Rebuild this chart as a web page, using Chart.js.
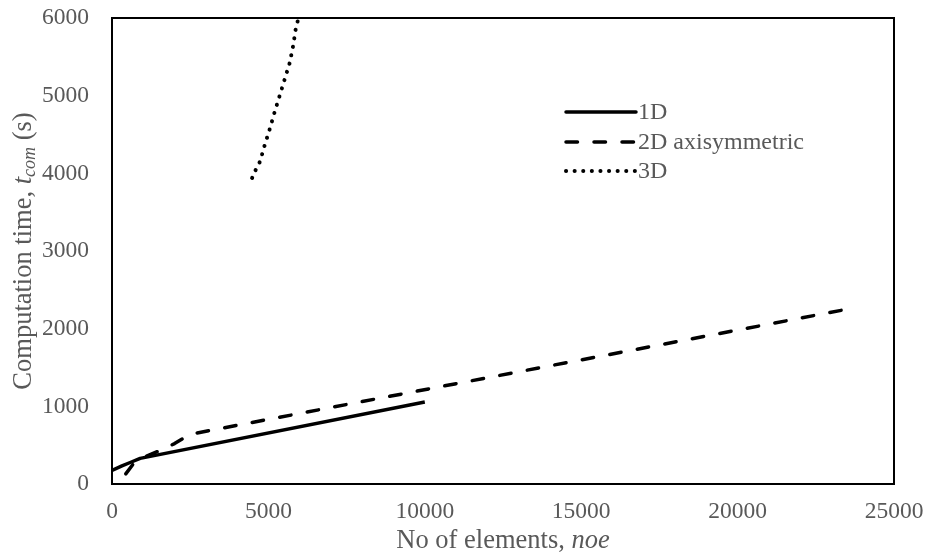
<!DOCTYPE html>
<html>
<head>
<meta charset="utf-8">
<script src="https://cdn.jsdelivr.net/npm/chart.js@4/dist/chart.umd.min.js"></script>
<style>
  body { margin: 0; background: #fff; }
  canvas { display: block; }
</style>
</head>
<body>
<canvas id="canvas" width="928" height="554"></canvas>
<script>
// values
const seriesNames = ['1D', '2D axisymmetric', '3D'];

const oneD_x = [0, 300, 600, 900, 10000];
const oneD_y = [175, 230, 280, 330, 1055];

const twoD_x = [440, 700, 1000, 1500, 2000, 2500, 23500];
const twoD_y = [130, 270, 340, 425, 520, 640, 2250];

const threeD_x = [4480, 4600, 4730, 4880, 5050, 5200, 5360, 5520, 5680, 5790, 5870, 5960];
const threeD_y = [3940, 4050, 4150, 4360, 4580, 4790, 5000, 5210, 5420, 5640, 5850, 6000];

const xTicks = [0, 5000, 10000, 15000, 20000, 25000];
const yTicks = [0, 1000, 2000, 3000, 4000, 5000, 6000];

const font = 'Liberation Serif';
const grey = '#595959';
const tickSize = 23.5;
const titleSize = 26.5;

function pts(xs, ys) {
    return xs.map((x, i) => ({ x: x, y: ys[i] }));
}

const lineStyles = [
    { dash: [], width: 3.5 },
    { dash: [11.5, 16.5], width: 3.5 },
    { dash: [0.1, 8.5], width: 4 }
];

// frame, legend and rich axis titles
const extras = {
    id: 'extras',
    afterDraw(chart) {
        const ctx = chart.ctx;
        const a = chart.chartArea;
        ctx.save();
        ctx.strokeStyle = '#000';
        ctx.lineWidth = 2;
        ctx.setLineDash([]);
        ctx.strokeRect(a.left, a.top, a.right - a.left, a.bottom - a.top);

        // legend
        const lx = 566, lw = 70, rows = [112, 142, 171];
        chart.data.datasets.forEach((ds, i) => {
            const y = rows[i];
            ctx.beginPath();
            ctx.strokeStyle = '#000';
            ctx.lineWidth = ds.borderWidth;
            ctx.lineCap = 'round';
            ctx.setLineDash(ds.borderDash || []);
            ctx.moveTo(lx, y);
            ctx.lineTo(lx + lw, y);
            ctx.stroke();
            ctx.setLineDash([]);
            ctx.fillStyle = grey;
            ctx.font = '24px "' + font + '"';
            ctx.textAlign = 'left';
            ctx.textBaseline = 'middle';
            ctx.fillText(ds.label, lx + lw + 2, y + 1);
        });

        // x title
        const xParts = [['No of elements, ', ''], ['noe', 'italic ']];
        ctx.fillStyle = grey;
        ctx.textBaseline = 'middle';
        let total = 0;
        xParts.forEach(p => { ctx.font = p[1] + titleSize + 'px "' + font + '"'; total += ctx.measureText(p[0]).width; });
        let x = (a.left + a.right) / 2 - total / 2;
        xParts.forEach(p => {
            ctx.font = p[1] + titleSize + 'px "' + font + '"';
            ctx.textAlign = 'left';
            ctx.fillText(p[0], x, 541);
            x += ctx.measureText(p[0]).width;
        });

        // y title (rotated)
        const yParts = [['Computation time, ', '', titleSize, 0], ['t', 'italic ', titleSize, 0],
                        ['com', 'italic ', 18, 6], [' (s)', '', titleSize, 0]];
        ctx.translate(24, (a.top + a.bottom) / 2);
        ctx.rotate(-Math.PI / 2);
        total = 0;
        yParts.forEach(p => { ctx.font = p[1] + p[2] + 'px "' + font + '"'; total += ctx.measureText(p[0]).width; });
        x = -total / 2;
        yParts.forEach(p => {
            ctx.font = p[1] + p[2] + 'px "' + font + '"';
            ctx.fillText(p[0], x, p[3]);
            x += ctx.measureText(p[0]).width;
        });
        ctx.restore();
    }
};

const allData = [pts(oneD_x, oneD_y), pts(twoD_x, twoD_y), pts(threeD_x, threeD_y)];

const ctx = document.getElementById('canvas').getContext('2d');
const myChart = new Chart(ctx, {
    type: 'scatter',
    data: {
        datasets: allData.map((d, i) => ({
            label: seriesNames[i],
            data: d,
            showLine: true,
            borderColor: '#000',
            backgroundColor: '#000',
            borderWidth: lineStyles[i].width,
            borderDash: lineStyles[i].dash,
            borderCapStyle: i === 0 ? 'butt' : 'round',
            borderJoinStyle: 'round',
            pointRadius: 0,
            tension: 0
        }))
    },
    options: {
        responsive: false,
        animation: false,
        layout: { padding: { top: 18, right: 34, left: 0, bottom: 0 } },
        plugins: { legend: { display: false }, tooltip: { enabled: false } },
        scales: {
            x: {
                type: 'linear',
                min: 0, max: 25000,
                afterBuildTicks: s => { s.ticks = xTicks.map(v => ({ value: v })); },
                afterFit: s => { s.height = 70; s.paddingLeft = 0; s.paddingRight = 0; },
                grid: { display: false, drawTicks: false },
                border: { display: false },
                ticks: { padding: 14, color: grey, font: { family: font, size: tickSize }, maxRotation: 0, callback: v => String(v) }
            },
            y: {
                type: 'linear',
                min: 0, max: 6000,
                afterBuildTicks: s => { s.ticks = yTicks.map(v => ({ value: v })); },
                afterFit: s => { s.width = 112; s.paddingTop = 0; s.paddingBottom = 0; },
                grid: { display: false, drawTicks: false },
                border: { display: false },
                ticks: { padding: 23, color: grey, font: { family: font, size: tickSize }, callback: v => String(v) }
            }
        }
    },
    plugins: [extras]
});
</script>
</body>
</html>
